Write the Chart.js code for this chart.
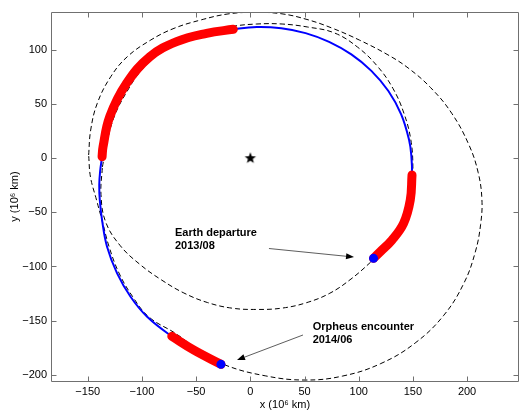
<!DOCTYPE html>
<html>
<head>
<meta charset="utf-8">
<script src="https://cdn.jsdelivr.net/npm/chart.js@4.4.1/dist/chart.umd.min.js"></script>
<style>
  html, body { margin: 0; padding: 0; background: #fff; }
  canvas { display: block; }
</style>
</head>
<body>
<canvas id="orbit-chart" width="519" height="412"></canvas>
<script>
const xTicks = [-150, -100, -50, 0, 50, 100, 150, 200];
const yTicks = [-200, -150, -100, -50, 0, 50, 100];

// all values in 10^6 km
const orpheusOrbit = [
  [-149.2, 3], [-147.3, 26.1], [-141.2, 50.8], [-128.8, 75.3], [-113.5, 93.8],
  [-91.9, 109.2], [-70.4, 120], [-45.8, 127.7], [-20.6, 133.3], [4.3, 134.8],
  [29.2, 133.4], [52.3, 128.2], [75.5, 120.2], [100.8, 109.1], [127, 95.5],
  [145.6, 83.4], [166.4, 65.2], [185.8, 41.6], [201.7, 12.4], [210.2, -13],
  [213.7, -38.1], [212.5, -61.2], [207.6, -86.6], [197.2, -115.2], [178.6, -145],
  [152.1, -170.7], [120.4, -189.7], [85.3, -201.2], [50.5, -204.9], [13.7, -201],
  [-24.3, -190.6], [-48.3, -176.7], [-68.9, -161.9], [-93.5, -146.7], [-108.7, -127.7],
  [-121.2, -106], [-130.4, -81.5], [-136.4, -58.9], [-141.9, -38.6], [-147.5, -17.3],
  [-149.2, 3]
];

const earthOrbit = [
  [-136.5, -8], [-131.9, 16.3], [-125.1, 39.7], [-114, 61.3], [-100.5, 81.3],
  [-82.4, 97.3], [-60.8, 107.6], [-39.1, 116], [-16.9, 121.7], [6, 124],
  [29.3, 124], [53, 121.2], [77.5, 115.8], [98.9, 102.7], [117.1, 85.2],
  [131.6, 64.5], [141.8, 41.4], [148.1, 17.1], [150, -8], [148.8, -33.2],
  [141.8, -57.4], [128.5, -78.8], [110.9, -96.1], [92.9, -111.6], [73.4, -124.7],
  [51.7, -133.5], [29, -138.5], [6, -139.7], [-17, -138.5], [-39.6, -133.3],
  [-61.3, -124.5], [-81.7, -112.6], [-101.6, -98.3], [-120, -80.8], [-133.5, -58.8],
  [-137.8, -33.4], [-136.5, -8]
];

const trajectory = [
  [113.7, -92.5], [119.9, -86.4], [130.7, -75.6], [141.4, -60.2], [147.6, -38.6],
  [149.2, -15.5], [148.6, 2], [146.5, 16.8], [139.2, 40.5], [127.4, 62.1],
  [111.7, 80.7], [93.2, 95.9], [72.7, 107.5], [51, 115.6], [28.6, 120.1],
  [6, 121.3], [-15.7, 119.1], [-40.3, 115.4], [-68, 107.7], [-92.7, 93.8],
  [-114.2, 69.2], [-129.7, 38.4], [-135.9, 10.6], [-136.8, 1.4], [-138.6, -12],
  [-139.4, -25], [-138.9, -38.6], [-136.8, -57.1], [-132.2, -81.8], [-122.9, -106.4],
  [-110.5, -128], [-95.2, -146.5], [-72.5, -164.5], [-52, -177.3], [-27.1, -190.4]
];

const thrustArc1 = [[113.7, -92.5], [119.9, -86.4], [130.7, -75.6], [141.4, -60.2], [147.6, -38.6], [149.2, -15.5]];
const thrustArc2 = [[-15.7, 119.1], [-40.3, 115.4], [-68, 107.7], [-92.7, 93.8], [-114.2, 69.2], [-129.7, 38.4], [-135.9, 10.6], [-136.8, 1.4]];
const thrustArc3 = [[-72.5, -164.5], [-52, -177.3], [-27.1, -190.4]];

const events = [[113.7, -92.5], [-27.1, -190.4]];
const sun = [[0, 0]];

// text + arrow annotations (data coords)
const notes = [
  { lines: ["Earth departure", "2013/08"], at: [-69.5, -69.1], from: [17.2, -83.4], to: [95.7, -91.3] },
  { lines: ["Orpheus encounter", "2014/06"], at: [57.5, -155.7], from: [48.6, -163.3], to: [-12.3, -186.4] }
];

const pts = arr => arr.map(([x, y]) => ({ x, y }));
const fmt = v => (v < 0 ? "\u2212" + Math.abs(v) : String(v));
const FONT = "'Liberation Sans', Arial, Helvetica, sans-serif";

function starImage(r) {
  const c = document.createElement("canvas");
  c.width = c.height = r * 2 + 2;
  const g = c.getContext("2d");
  g.fillStyle = "#000";
  g.beginPath();
  for (let i = 0; i < 10; i++) {
    const rad = i % 2 ? r * 0.42 : r;
    const a = -Math.PI / 2 + i * Math.PI / 5;
    g.lineTo(r + 1 + rad * Math.cos(a), r + 1 + rad * Math.sin(a));
  }
  g.closePath();
  g.fill();
  return c;
}

const dashed = { borderColor: "#000", borderWidth: 1, borderDash: [5, 3], pointRadius: 0, showLine: true, tension: 0.4, order: 6 };
const thrust = { borderColor: "#ff0000", borderWidth: 9, borderCapStyle: "round", borderJoinStyle: "round", pointRadius: 0, showLine: true, tension: 0.4, order: 4 };

const frame = {
  id: "frame",
  afterDatasetsDraw(chart) {
    const { ctx, scales: { x, y } } = chart;
    const L = 51.5, R = 518.5, T = 12.5, B = 381.5;
    ctx.save();
    ctx.strokeStyle = "#707070";
    ctx.lineWidth = 1;
    ctx.beginPath();
    ctx.rect(L, T, R - L, B - T);
    xTicks.forEach(v => {
      const px = Math.round(x.getPixelForValue(v)) + 0.5;
      ctx.moveTo(px, B); ctx.lineTo(px, B - 5);
      ctx.moveTo(px, T); ctx.lineTo(px, T + 5);
    });
    yTicks.forEach(v => {
      const py = Math.round(y.getPixelForValue(v)) + 0.5;
      ctx.moveTo(L, py); ctx.lineTo(L + 5, py);
      ctx.moveTo(R, py); ctx.lineTo(R - 5, py);
    });
    ctx.stroke();

    notes.forEach(n => {
      const sx = x.getPixelForValue(n.from[0]), sy = y.getPixelForValue(n.from[1]);
      const tx = x.getPixelForValue(n.to[0]), ty = y.getPixelForValue(n.to[1]);
      const ang = Math.atan2(ty - sy, tx - sx);
      const hl = 8, hw = 3;
      ctx.strokeStyle = "#333";
      ctx.lineWidth = 0.8;
      ctx.beginPath();
      ctx.moveTo(sx, sy);
      ctx.lineTo(tx - hl * Math.cos(ang), ty - hl * Math.sin(ang));
      ctx.stroke();
      ctx.fillStyle = "#000";
      ctx.beginPath();
      ctx.moveTo(tx, ty);
      ctx.lineTo(tx - hl * Math.cos(ang) + hw * Math.sin(ang), ty - hl * Math.sin(ang) - hw * Math.cos(ang));
      ctx.lineTo(tx - hl * Math.cos(ang) - hw * Math.sin(ang), ty - hl * Math.sin(ang) + hw * Math.cos(ang));
      ctx.closePath();
      ctx.fill();

      ctx.font = "bold 11px " + FONT;
      ctx.textAlign = "left";
      ctx.textBaseline = "middle";
      const lx = x.getPixelForValue(n.at[0]), ly = y.getPixelForValue(n.at[1]);
      n.lines.forEach((t, i) => ctx.fillText(t, lx, ly + i * 13));
    });
    ctx.restore();
  }
};

new Chart(document.getElementById("orbit-chart"), {
  type: "scatter",
  data: {
    datasets: [
      { ...dashed, data: pts(orpheusOrbit) },
      { ...dashed, data: pts(earthOrbit) },
      { data: pts(trajectory), borderColor: "#0000ff", borderWidth: 2, pointRadius: 0, showLine: true, tension: 0.4, order: 5 },
      { ...thrust, data: pts(thrustArc1) },
      { ...thrust, data: pts(thrustArc2) },
      { ...thrust, data: pts(thrustArc3) },
      { data: pts(events), pointRadius: 4.5, pointBackgroundColor: "#0000ff", pointBorderColor: "#0000ff", pointBorderWidth: 0, showLine: false, order: 2 },
      { data: pts(sun), pointStyle: starImage(6), pointRadius: 6, showLine: false, order: 1 }
    ]
  },
  options: {
    responsive: false,
    animation: false,
    events: [],
    devicePixelRatio: 1,
    layout: { autoPadding: false, padding: { top: 12, right: 1, left: 0, bottom: 0 } },
    plugins: { legend: { display: false }, tooltip: { enabled: false } },
    scales: {
      x: {
        type: "linear",
        min: -183,
        max: 247,
        afterBuildTicks: s => { s.ticks = xTicks.map(v => ({ value: v })); },
        afterFit: s => { s.height = 31; s.paddingLeft = 0; s.paddingRight = 0; },
        grid: { display: false, drawTicks: false },
        border: { display: false },
        ticks: { color: "#000", padding: 4, maxRotation: 0, autoSkip: false, font: { family: FONT, size: 11 }, callback: fmt },
        title: { display: true, text: "x (10\u2076 km)", color: "#000", padding: { top: 0, bottom: 0 }, font: { family: FONT, size: 11 } }
      },
      y: {
        type: "linear",
        min: -205.8,
        max: 135.1,
        afterBuildTicks: s => { s.ticks = yTicks.map(v => ({ value: v })); },
        afterFit: s => { s.width = 52; s.paddingTop = 0; s.paddingBottom = 0; },
        grid: { display: false, drawTicks: false },
        border: { display: false },
        ticks: { color: "#000", padding: 5, autoSkip: false, font: { family: FONT, size: 11 }, callback: fmt },
        title: { display: true, text: "y (10\u2076 km)", color: "#000", padding: { top: 8, bottom: 0 }, font: { family: FONT, size: 11 } }
      }
    }
  },
  plugins: [frame]
});
</script>
</body>
</html>
